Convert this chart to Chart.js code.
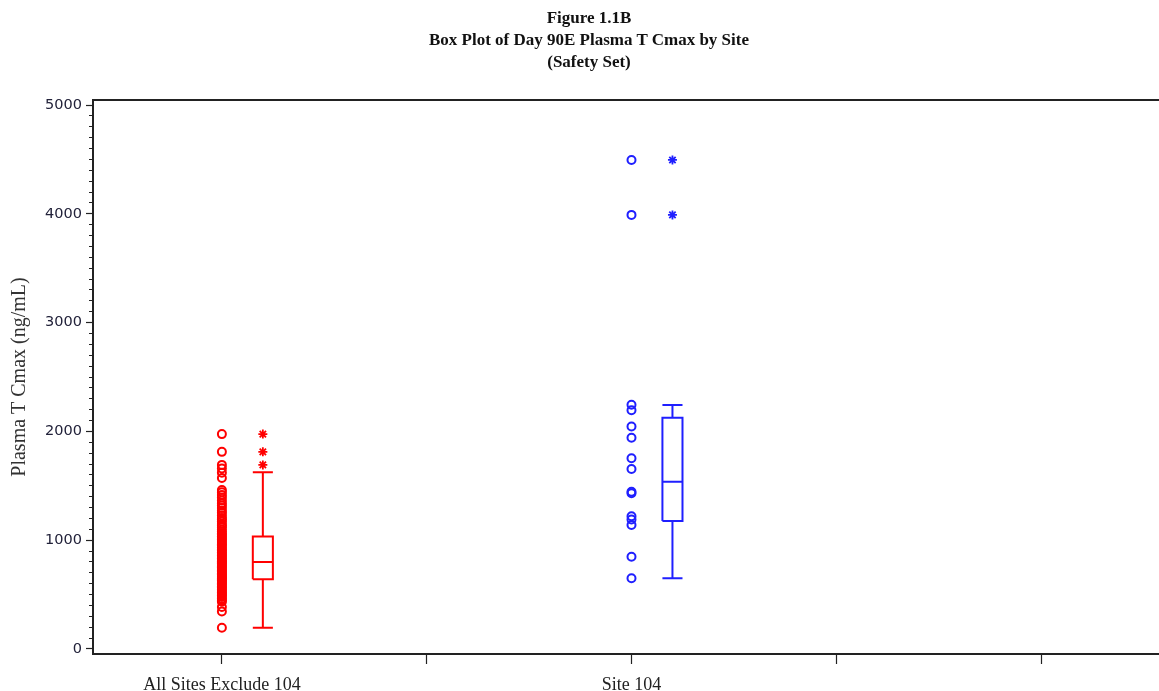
<!DOCTYPE html>
<html>
<head>
<meta charset="utf-8">
<script src="https://cdn.jsdelivr.net/npm/chart.js@4/dist/chart.umd.min.js"></script>
<style>
html,body{margin:0;padding:0;background:#fff;overflow:hidden;}
#wrap{position:relative;width:1159px;height:691px;}
#title{position:absolute;left:19px;top:7px;width:1140px;text-align:center;font-family:"Liberation Serif",serif;font-weight:bold;font-size:17px;line-height:22px;color:#111;}
canvas{position:absolute;left:0;top:0;}
</style>
</head>
<body>
<div id="wrap">
<canvas id="c" width="1159" height="691"></canvas>
<div id="title">Figure 1.1B<br>Box Plot of Day 90E Plasma T Cmax by Site<br>(Safety Set)</div>
</div>
<script>
// ---- data ----
const categories = ['All Sites Exclude 104', 'Site 104'];
const xTickLabels = ['All Sites Exclude 104', '', 'Site 104', '', ''];
const yTickValues = [0, 1000, 2000, 3000, 4000, 5000];

const redValues = [1975, 1812, 1692, 1660, 1621, 1572, 1461, 1440, 1415, 1392, 1365, 1340, 1318, 1296, 1270,
  1252, 1228, 1205, 1190, 1172, 1150, 1133, 1118, 1097, 1080, 1062, 1049, 1035, 1020, 1006, 992, 975, 961,
  948, 930, 917, 903, 888, 872, 860, 845, 832, 818, 805, 798, 786, 771, 760, 748, 735, 722, 709, 695, 684,
  670, 661, 650, 640, 629, 616, 602, 590, 575, 562, 549, 533, 518, 505, 492, 478, 462, 447, 434, 386, 345, 195];
const blueValues = [4495, 3990, 2245, 2195, 2045, 1942, 1753, 1654, 1446, 1431, 1220, 1190, 1140, 848, 650];

const boxQ1 = [640, 1176];
const boxMedian = [800, 1538];
const boxQ3 = [1035, 2126];
const whiskerLow = [195, 650];
const whiskerHigh = [1625, 2243];
const outliersRed = [1975, 1812, 1692];
const outliersBlue = [4495, 3990];

// ---- style ----
const colors = ['#ff0000', '#1f1fff'];
const boxShift = 0.2;
const boxHalf = 0.049;
const catX = i => 1 + 2 * i;

function boxPath(i) {
  const x = catX(i) + boxShift, l = x - boxHalf, r = x + boxHalf;
  const gap = {x: x, y: null};
  return [
    {x: l, y: boxQ1[i]}, {x: r, y: boxQ1[i]}, {x: r, y: boxQ3[i]}, {x: l, y: boxQ3[i]}, {x: l, y: boxQ1[i]}, gap,
    {x: l, y: boxMedian[i]}, {x: r, y: boxMedian[i]}, gap,
    {x: x, y: boxQ3[i]}, {x: x, y: whiskerHigh[i]}, gap,
    {x: l, y: whiskerHigh[i]}, {x: r, y: whiskerHigh[i]}, gap,
    {x: x, y: boxQ1[i]}, {x: x, y: whiskerLow[i]}, gap,
    {x: l, y: whiskerLow[i]}, {x: r, y: whiskerLow[i]}
  ];
}

const seriesValues = [redValues, blueValues];
const outliers = [outliersRed, outliersBlue];
const datasets = [];
categories.forEach((c, i) => {
  datasets.push({
    label: c + ' points',
    data: seriesValues[i].map(v => ({x: catX(i), y: v})),
    pointStyle: 'circle', pointRadius: 4, borderWidth: 2,
    borderColor: colors[i], backgroundColor: 'rgba(0,0,0,0)', showLine: false
  });
  datasets.push({
    label: c + ' box',
    data: boxPath(i),
    showLine: true, spanGaps: false, pointRadius: 0, borderWidth: 2,
    borderColor: colors[i], backgroundColor: colors[i], tension: 0
  });
  datasets.push({
    label: c + ' outliers',
    data: outliers[i].map(v => ({x: catX(i) + boxShift, y: v})),
    pointStyle: 'star', pointRadius: 4.5, borderWidth: 1.8,
    borderColor: colors[i], backgroundColor: colors[i], showLine: false
  });
});

const xMin = 0.3707, xMax = 5.5756, yMin = -46, yMax = 5046;
const axisColor = '#222';

new Chart(document.getElementById('c'), {
  type: 'scatter',
  data: {datasets},
  options: {
    responsive: false, animation: false, devicePixelRatio: 1,
    layout: {autoPadding: false, padding: {top: 100, left: 0, right: 0, bottom: 0}},
    plugins: {legend: {display: false}, tooltip: {enabled: false}},
    events: [],
    scales: {
      x: {
        type: 'linear', position: 'bottom', min: xMin, max: xMax,
        afterBuildTicks: s => { s.ticks = [1, 2, 3, 4, 5].map(v => ({value: v})); },
        afterFit: s => { s.height = 37; },
        ticks: {
          callback: (v) => xTickLabels[Math.round(v) - 1] || '',
          font: {family: 'Liberation Serif', size: 18}, color: '#222', padding: 10, maxRotation: 0, autoSkip: false
        },
        grid: {drawOnChartArea: false, tickLength: 10, tickColor: axisColor, tickWidth: 1.2},
        border: {color: axisColor, width: 2}
      },
      xTop: {
        type: 'linear', position: 'top', min: xMin, max: xMax,
        afterBuildTicks: s => { s.ticks = []; },
        afterFit: s => { s.height = 0; },
        ticks: {display: false},
        grid: {drawOnChartArea: false, drawTicks: false, color: 'rgba(0,0,0,0)'},
        border: {display: true, color: axisColor, width: 2}
      },
      y: {
        type: 'linear', position: 'left', weight: 1, min: yMin, max: yMax,
        afterBuildTicks: s => { s.ticks = yTickValues.map(v => ({value: v})); },
        afterFit: s => { s.width = 93; },
        ticks: {callback: v => String(v), font: {family: 'DejaVu Sans', size: 14.5}, color: '#22223a', padding: 4},
        grid: {drawOnChartArea: false, tickLength: 7, tickColor: axisColor, tickWidth: 1.2},
        border: {color: axisColor, width: 2},
        title: {display: true, text: 'Plasma T Cmax (ng/mL)', font: {family: 'Liberation Serif', size: 20},
          color: '#333', padding: {top: 8, bottom: 0}}
      },
      yMinor: {
        type: 'linear', position: 'left', weight: 0, min: yMin, max: yMax,
        afterBuildTicks: s => {
          const t = [];
          for (let v = 0; v <= 5000; v += 100) t.push({value: v});
          s.ticks = t;
        },
        afterFit: s => { s.width = 0; },
        ticks: {display: false},
        grid: {drawOnChartArea: false, tickLength: 4, tickColor: axisColor, tickWidth: 1},
        border: {display: false}
      }
    }
  }
});
</script>
</body>
</html>
